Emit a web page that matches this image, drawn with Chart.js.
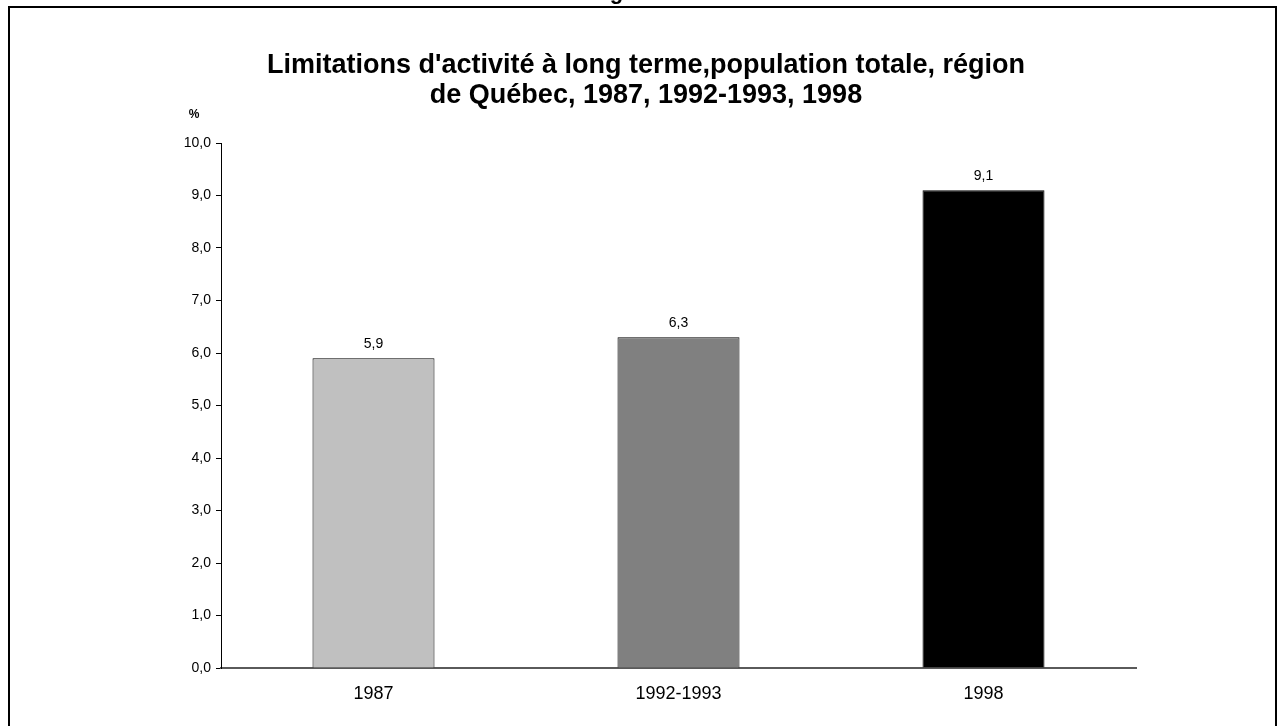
<!DOCTYPE html>
<html>
<head>
<meta charset="utf-8">
<script src="https://cdn.jsdelivr.net/npm/chart.js@4"></script>
<style>
  html, body { margin: 0; padding: 0; background: #fff; overflow: hidden; }
  #grafico { display: block; }
</style>
</head>
<body>
<canvas id="grafico" width="1278" height="726"></canvas>
<script>
// Données
var periodes = ["1987", "1992-1993", "1998"];
var pourcentages = [5.9, 6.3, 9.1];
var couleurs = ["#c0c0c0", "#808080", "#000000"];
var titre = ["Limitations d'activité à long terme,population totale, région", "de Québec, 1987, 1992-1993, 1998"];

var police = "'Liberation Sans', Arial, sans-serif";

function virgule(v) {
   return Number(v).toFixed(1).replace(".", ",");
}

// Cadre, titre, "%" et étiquettes des barres
var decor = {
   id: "decor",
   afterDraw: function (chart) {
      var ctx = chart.ctx;
      ctx.save();
      // texte "Figure" coupé en haut
      ctx.fillStyle = "#000";
      ctx.font = "bold 22px " + police;
      ctx.textAlign = "center";
      ctx.textBaseline = "alphabetic";
      ctx.fillText("Figure 3", 633, -1);
      // cadre
      ctx.strokeStyle = "#000";
      ctx.lineWidth = 2;
      ctx.beginPath();
      ctx.moveTo(9, 740);
      ctx.lineTo(9, 7);
      ctx.lineTo(1276, 7);
      ctx.lineTo(1276, 740);
      ctx.stroke();
      // titre
      ctx.font = "bold 27px " + police;
      ctx.fillText(titre[0], 646, 73);
      ctx.fillText(titre[1], 646, 103);
      // unité
      ctx.font = "bold 12px " + police;
      ctx.textBaseline = "middle";
      ctx.fillText("%", 194, 115);
      // valeurs au-dessus des barres
      ctx.font = "14px " + police;
      var meta = chart.getDatasetMeta(0);
      meta.data.forEach(function (bar, i) {
         ctx.fillText(virgule(pourcentages[i]), bar.x, bar.y - 14);
      });
      ctx.restore();
   },
};

new Chart(document.getElementById("grafico").getContext("2d"), {
   type: "bar",
   data: {
      labels: periodes,
      datasets: [
         {
            data: pourcentages,
            backgroundColor: couleurs,
            borderColor: "#000",
            borderWidth: 1,
            barPercentage: 0.4,
            categoryPercentage: 1,
         },
      ],
   },
   options: {
      responsive: false,
      animation: false,
      layout: { padding: { left: 10, top: 143, right: 142, bottom: 8 } },
      scales: {
         x: {
            grid: { display: false, drawTicks: false },
            border: { color: "#5a5a5a", width: 2 },
            ticks: {
               color: "#000",
               padding: 15,
               font: { family: police, size: 18 },
            },
            afterFit: function (s) { s.height = 50; },
         },
         y: {
            min: 0,
            max: 10,
            grid: { drawOnChartArea: false, color: "#000", tickLength: 5 },
            border: { color: "#000", width: 1 },
            ticks: {
               stepSize: 1,
               color: "#000",
               padding: 5,
               callback: function (v) { return virgule(v); },
               font: { family: police, size: 14 },
            },
            afterFit: function (s) { s.width = 211; },
         },
      },
      plugins: {
         legend: { display: false },
         tooltip: { enabled: false },
      },
   },
   plugins: [decor],
});
</script>
</body>
</html>
